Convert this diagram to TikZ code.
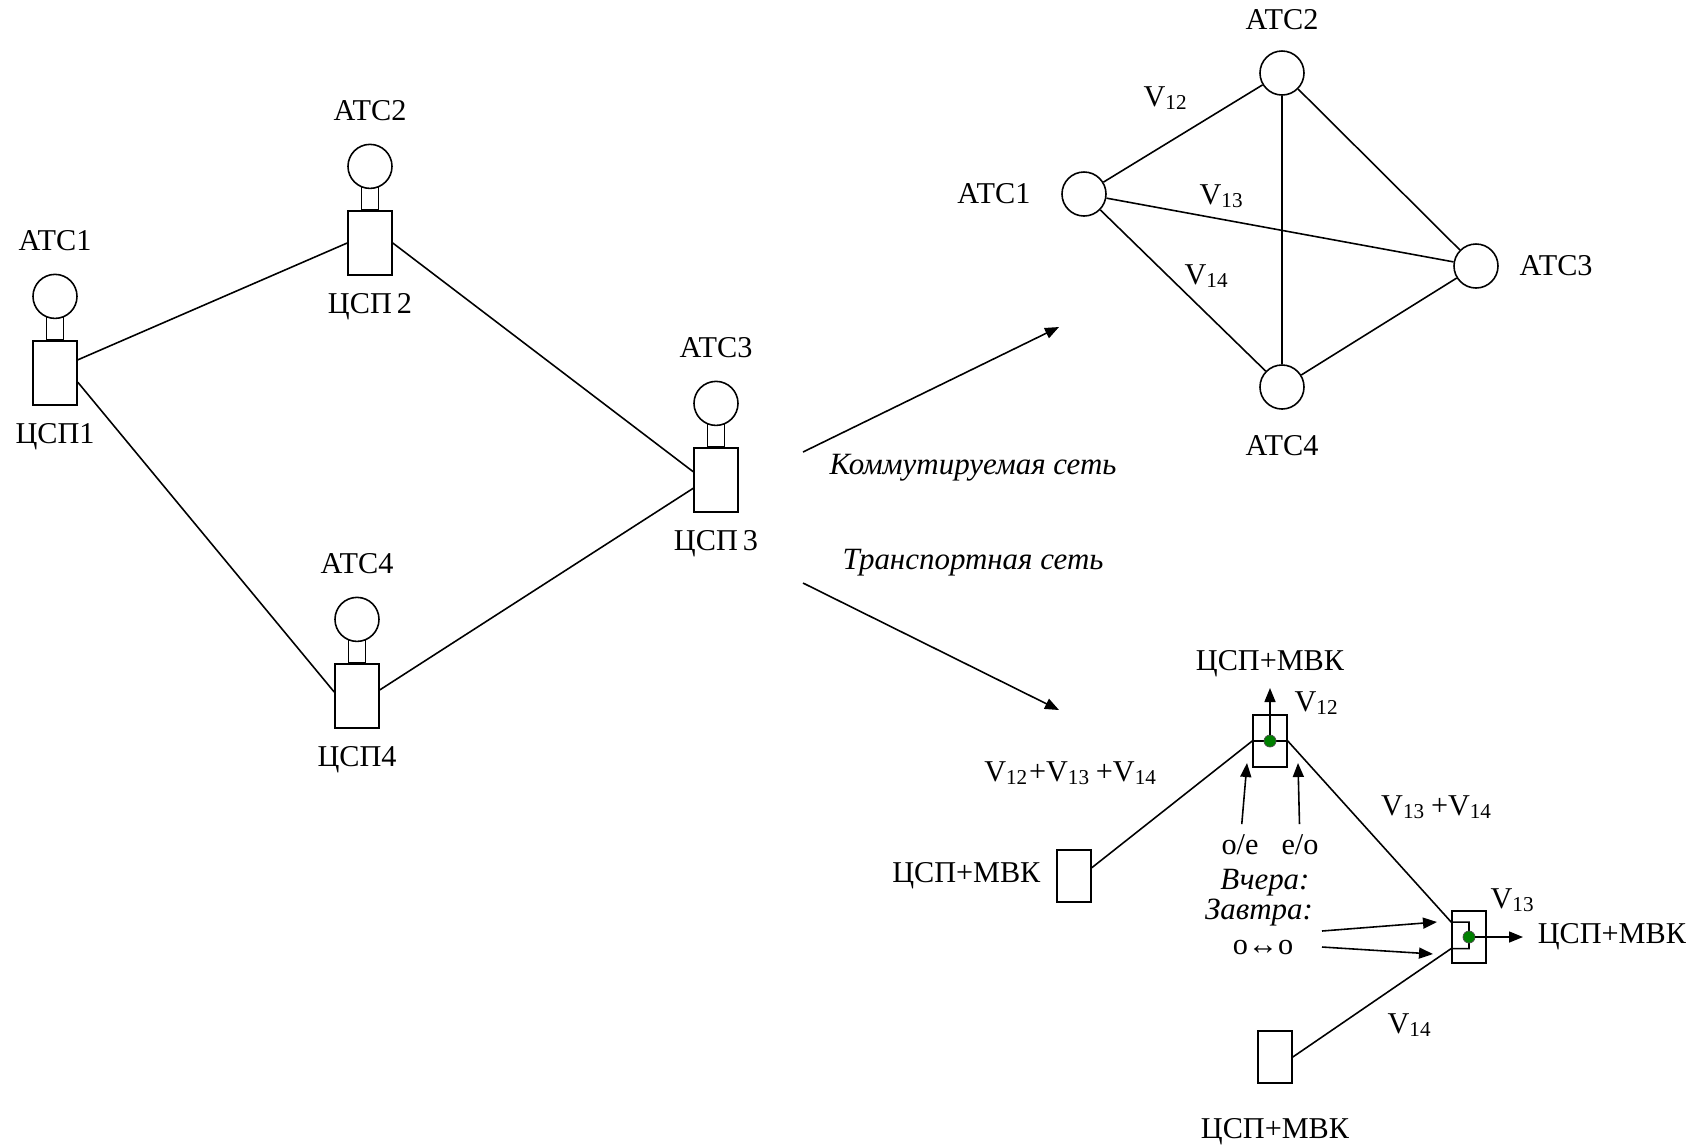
\documentclass[tikz,border=0pt]{standalone}
\usepackage{fontspec}
\setmainfont{Liberation Serif}
\usetikzlibrary{positioning,arrows.meta}
\newcommand{\Vs}[1]{V\textsubscript{#1}}
\begin{document}
\begin{tikzpicture}[x=0.01cm,y=-0.01cm,line width=0.45pt]
\tikzstyle{every node}+=[inner sep=0pt,font=\fontsize{8.6}{10}\selectfont]
\tikzstyle{atc}=[draw,circle,fill=white,minimum size=0.44cm]
\tikzstyle{csp}=[draw,rectangle,minimum width=0.44cm,minimum height=0.64cm]
\tikzstyle{mvk}=[draw,rectangle,minimum width=0.34cm,minimum height=0.52cm]
\tikzstyle{stem}=[draw,rectangle,minimum width=0.17cm,minimum height=0.25cm]
\tikzstyle{tip}=[-{Triangle[length=0.14cm,width=0.11cm]}]
\tikzstyle{dot}=[circle,fill=green!50!black,draw=black!70,minimum size=0.12cm,line width=0.2pt]
\tikzstyle{ital}=[font=\fontsize{8.8}{10}\selectfont\itshape]
\useasboundingbox (0,0) rectangle (1708,1144);
\node [csp] (c1) at (55,373) {};
\node [stem,above=0 of c1] (s1) {};
\node [atc,above=0.21cm of c1] (a1) {};
\node [above=0.22cm of a1] (t1) {АТС1};
\node [below=0.17cm of c1] (p1) {ЦСП1};
\node [csp] (c2) at (370,243) {};
\node [stem,above=0 of c2] (s2) {};
\node [atc,above=0.21cm of c2] (a2) {};
\node [above=0.22cm of a2] (t2) {АТС2};
\node [below=0.17cm of c2] (p2) {ЦСП\,2};
\node [csp] (c3) at (716,480) {};
\node [stem,above=0 of c3] (s3) {};
\node [atc,above=0.21cm of c3] (a3) {};
\node [above=0.22cm of a3] (t3) {АТС3};
\node [below=0.17cm of c3] (p3) {ЦСП\,3};
\node [csp] (c4) at (357,696) {};
\node [stem,above=0 of c4] (s4) {};
\node [atc,above=0.21cm of c4] (a4) {};
\node [above=0.22cm of a4] (t4) {АТС4};
\node [below=0.17cm of c4] (p4) {ЦСП4};
\draw (c1.30) -- (c2.west);
\draw (c1.-22) -- (c4.170);
\draw (c2.east) -- (c3.160);
\draw (c4.15) -- (c3.200);
\coordinate (k0) at (803,452);
\coordinate (k1) at (1059,327);
\coordinate (r0) at (803,583);
\coordinate (r1) at (1059,710);
\draw [tip] (k0) -- (k1);
\draw [tip] (r0) -- (r1);
\node [ital] (kl) at (973,468) {Коммутируемая сеть};
\node [ital] (tl) at (973,563) {Транспортная сеть};
\node [atc] (n1) at (1084,194) {};
\node [atc] (n2) at (1282,73) {};
\node [atc] (n3) at (1476,266) {};
\node [atc] (n4) at (1282,387) {};
\node [left=0.3cm of n1] (g1) {АТС1};
\node [above=0.2cm of n2] (g2) {АТС2};
\node [right=0.2cm of n3] (g3) {АТС3};
\node [below=0.25cm of n4] (g4) {АТС4};
\draw (n1) -- (n2);
\draw (n1) -- (n3);
\draw (n1) -- (n4);
\draw (n2) -- (n3);
\draw (n2) -- (n4);
\draw (n3) -- (n4);
\node (v12) at (1166,98) {\Vs{12}};
\node (v13) at (1222,196) {\Vs{13}};
\node (v14) at (1207,276) {\Vs{14}};
\node [mvk] (b1) at (1270,741) {};
\node [mvk] (b0) at (1074,876) {};
\node [mvk] (b2) at (1469,937) {};
\node [mvk] (b3) at (1275,1057) {};
\node [left=0.15cm of b0] (h0) {ЦСП+МВК};
\node [below=0.34cm of b3] (h3) {ЦСП+МВК};
\draw (b0.25) -- (b1.west) -- (b1.east) -- (b2.140) -| (b2.center);
\draw (b3.east) -- (b2.213) -| (b2.center);
\node [dot] (d1) at (b1) {};
\node [dot] (d2) at (b2) {};
\coordinate (u1) at (1270,688);
\coordinate (u2) at (1523,937);
\draw [tip] (d1) -- (u1);
\draw [tip] (d2) -- (u2);
\node [above=0.1cm of u1] (h1) {ЦСП+МВК};
\node [right=0.14cm of u2] (h2) {ЦСП+МВК};
\node (w12) at (1317,703) {\Vs{12}};
\node (w123) at (1071,773) {\Vs{12}+\Vs{13}\,+\Vs{14}};
\node (w34) at (1437,807) {\Vs{13}\,+\Vs{14}};
\node (w13) at (1513,900) {\Vs{13}};
\node (w14) at (1410,1025) {\Vs{14}};
\node (oe) at (1240,845) {o/e};
\node (eo) at (1300,845) {e/o};
\coordinate (e1) at (1247,763);
\coordinate (e2) at (1298,763);
\draw [tip,shorten <=0.1cm] (oe) -- (e1);
\draw [tip,shorten <=0.1cm] (eo) -- (e2);
\node [ital] (vch) at (1265,883) {Вчера:};
\node [ital] (zav) at (1259,913) {Завтра:};
\node (oo) at (1263,948) {o↔o};
\coordinate (q1) at (1322,931);
\coordinate (q2) at (1437,922);
\coordinate (q3) at (1322,947);
\coordinate (q4) at (1433,954);
\draw [tip] (q1) -- (q2);
\draw [tip] (q3) -- (q4);
\end{tikzpicture}
\end{document}
